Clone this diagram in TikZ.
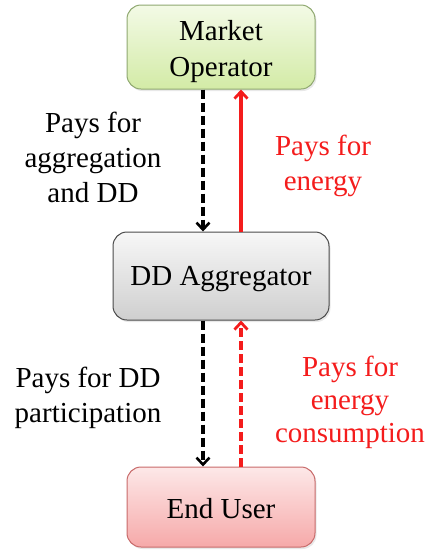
\documentclass[tikz,border=0pt]{standalone}
\usepackage{fontspec}
\setmainfont{Liberation Serif}
\usetikzlibrary{arrows.meta,shadows}

\definecolor{mogtop}{HTML}{F3FAE6}
\definecolor{mogbot}{HTML}{D3EBA6}
\definecolor{moborder}{HTML}{8FA870}
\definecolor{dagtop}{HTML}{F7F7F7}
\definecolor{dagbot}{HTML}{CFCFCF}
\definecolor{daborder}{HTML}{4A4A4A}
\definecolor{eutop}{HTML}{FDE8E8}
\definecolor{eubot}{HTML}{F6A9A9}
\definecolor{euborder}{HTML}{C86A6A}
\definecolor{payred}{HTML}{F41C1C}

\tikzset{
  entity/.style={rounded corners=14pt, line width=1pt, inner sep=0pt,
    drop shadow={opacity=0.18, shadow xshift=1.5pt, shadow yshift=-2pt}},
  entitytext/.style={align=center, inner sep=0pt, font=\fontsize{29}{36}\selectfont},
  payblack/.style={draw=black, line width=3.2pt, dash pattern=on 9pt off 4pt,
    -{Straight Barb[length=7pt,width=13pt,line width=2.6pt]}},
  payredarrow/.style={draw=payred, line width=3.4pt,
    -{Straight Barb[length=7pt,width=13pt,line width=2.8pt]}},
  note/.style={align=center, inner sep=0pt, font=\fontsize{29}{35}\selectfont},
  rednote/.style={note, text=payred}
}

\begin{document}
\begin{tikzpicture}[x=1pt,y=-1pt]
  \useasboundingbox (0,0) rectangle (432,550);

  % the three parties
  \node[entity, draw=moborder, top color=mogtop, bottom color=mogbot,
        minimum width=188pt, minimum height=84pt,
        label={[entitytext, yshift=-5pt]center:{Market\\Operator}}] (mo) at (221,47) {};
  \node[entity, draw=daborder, top color=dagtop, bottom color=dagbot,
        minimum width=216pt, minimum height=88pt,
        label={[entitytext, yshift=-3pt]center:DD Aggregator}] (da) at (221,276) {};
  \node[entity, draw=euborder, top color=eutop, bottom color=eubot,
        minimum width=188pt, minimum height=80pt,
        label={[entitytext, yshift=-2pt]center:End User}] (eu) at (221,507) {};

  % payment flows
  \draw[payblack] ([xshift=-18pt]mo.south) -- ([xshift=-18pt]da.north);
  \draw[payredarrow] ([xshift=20pt]da.north) -- ([xshift=20pt]mo.south);
  \draw[payblack] ([xshift=-18pt]da.south) -- ([xshift=-18pt]eu.north);
  \draw[payredarrow, dash pattern=on 9pt off 4pt] ([xshift=20pt]eu.north) -- ([xshift=20pt]da.south);

  % flow labels
  \node[note] (l1) at (93,157) {Pays for\\aggregation\\and DD};
  \node[rednote] (l2) at (323,166) {Pays for\\energy};
  \node[note] (l3) at (88,398) {Pays for DD\\participation};
  \node[rednote, font=\fontsize{29}{33}\selectfont] (l4) at (350,402) {Pays for\\energy\\consumption};
\end{tikzpicture}
\end{document}
